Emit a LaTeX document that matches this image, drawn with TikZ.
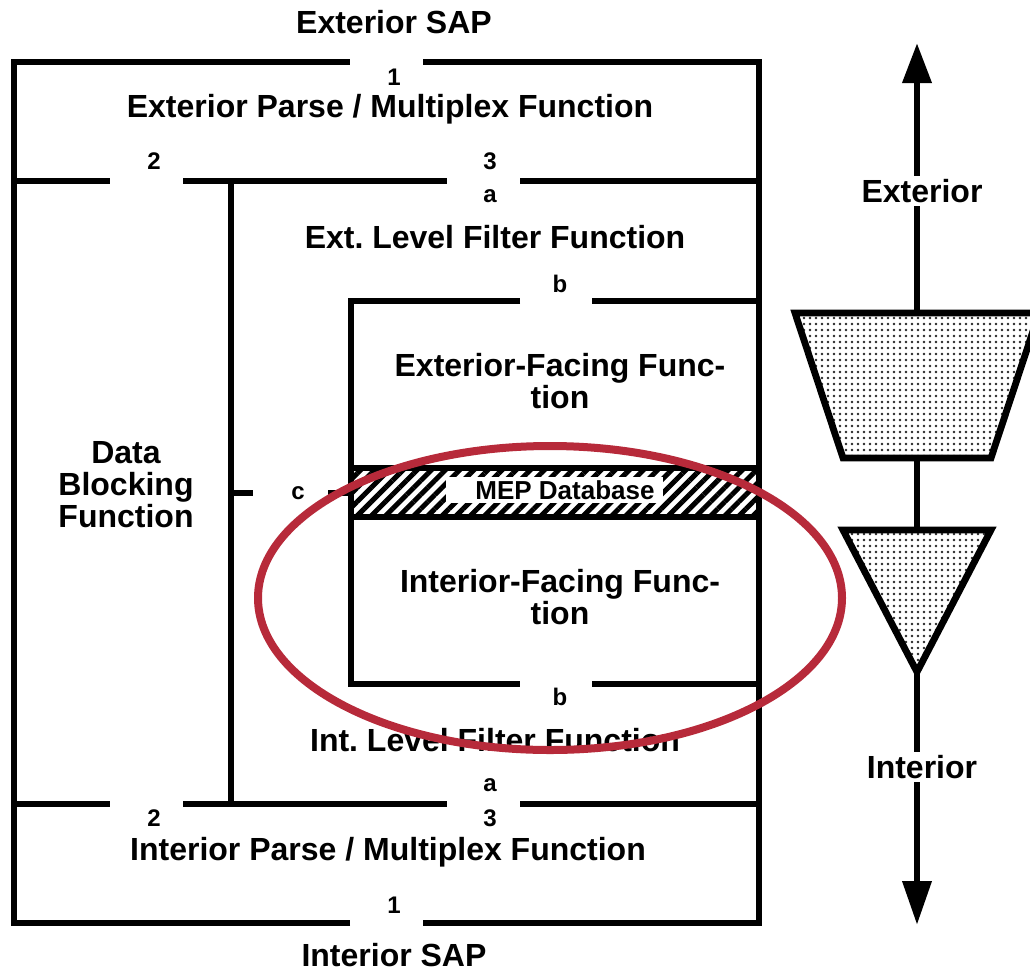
\documentclass[tikz,border=0pt]{standalone}
\usepackage{fontspec}
\setmainfont{Liberation Sans}
\usetikzlibrary{arrows.meta,patterns.meta}

\definecolor{markred}{RGB}{183,42,58}
\frenchspacing

\tikzset{
  wall/.style={line width=6.8pt},
  block/.style={font=\bfseries\fontsize{32}{32}\selectfont, align=center},
  title/.style={block, text height=23pt, text depth=0pt},
  port/.style={font=\bfseries\fontsize{24}{24}\selectfont,
               text height=17pt, text depth=0pt},
  stipple/.style={pattern={Dots[radius=1.4pt,distance=6pt]}, pattern color=black!85},
  hatch/.style={pattern={Lines[angle=45,distance=10pt,line width=5pt]}},
}

\begin{document}
\begin{tikzpicture}[x=1pt,y=-1pt]
   \useasboundingbox (0,0) rectangle (1030,972);

   % frame corners
   \coordinate (tl) at (14,62);
   \coordinate (tr) at (759,62);
   \coordinate (bl) at (14,923);
   \coordinate (br) at (759,923);

   % labels
   \node[title, inner ysep=2pt] (extsap) at (394,22) {Exterior SAP};
   \node[port] (p1top) at (394,77) {1};
   \node[title] (extmux) at (390,106) {Exterior Parse / Multiplex Function};
   \node[port] (p2top) at (154,161) {2};
   \node[port] (p3top) at (490,161) {3};
   \node[port] (patop) at (490,194) {a};
   \node[title] (extlvl) at (495,237) {Ext. Level Filter Function};
   \node[port] (pbtop) at (560,284) {b};
   \node[block] (extface) at (560,381) {Exterior-Facing Func-\\tion};
   \node[block] (datablk) at (126,485) {Data\\Blocking\\Function};
   \node[port] (pc) at (298,491) {c};
   \node[block] (intface) at (560,597) {Interior-Facing Func-\\tion};
   \node[port] (pbbot) at (560,697) {b};
   \node[title] (intlvl) at (495,740) {Int. Level Filter Function};
   \node[port] (pabot) at (490,783) {a};
   \node[port] (p2bot) at (154,818) {2};
   \node[port] (p3bot) at (490,818) {3};
   \node[title] (intmux) at (388,849) {Interior Parse / Multiplex Function};
   \node[port] (p1bot) at (394,905) {1};
   \node[title, inner ysep=2pt] (intsap) at (394,955) {Interior SAP};

   % outer frame, gap for port 1
   \draw[wall] (423,62) -- (tr) -- (br) -- (423,923);
   \draw[wall] (350,923) -- (bl) -- (tl) -- (350,62);

   % parse / multiplex separators
   \draw[wall] (14,181) -- (110,181);
   \draw[wall] (183,181) -- (447,181);
   \draw[wall] (520,181) -- (759,181);
   \draw[wall] (14,804) -- (110,804);
   \draw[wall] (183,804) -- (447,804);
   \draw[wall] (520,804) -- (759,804);

   % data blocking wall and c
   \draw[wall] (231,181) -- (231,804);
   \draw[wall] (231,493) -- (253,493);
   \draw[wall] (328,493) -- (351,493);

   % inner box
   \draw[wall] (520,301) -- (351,301) -- (351,684) -- (520,684);
   \draw[wall] (592,301) -- (759,301);
   \draw[wall] (592,684) -- (759,684);

   % MEP database band
   \path[hatch] (351,470) rectangle (759,516);
   \draw[wall] (351,468) -- (759,468);
   \draw[wall] (351,517) -- (759,517);
   \fill[white] (446,477) rectangle (663,503);
   \node[font=\bfseries\fontsize{26}{26}\selectfont, text height=19pt, text depth=0pt]
      (mep) at (565,490) {MEP Database};

   % exterior / interior axis
   \node[title] (ext) at (922,191) {Exterior};
   \node[title] (int) at (922,767) {Interior};
   \coordinate (uptip) at (917,43);
   \coordinate (downtip) at (917,925);
   \coordinate (trapTop) at (917,313);
   \coordinate (trapBot) at (917,458);
   \coordinate (triTop) at (917,530);
   \coordinate (triTip) at (917,672);

   \filldraw[wall, stipple, line join=miter] (795,313) -- (1039,313) -- (991,458) -- (843,458) -- cycle;
   \filldraw[wall, stipple, line join=miter] (843,530) -- (991,530) -- (triTip) -- cycle;

   \draw[wall, -{Triangle[length=40pt,width=28pt]}] ([xshift=-5pt]ext.north) -- (uptip);
   \draw[wall] ([xshift=-5pt]ext.south) -- (trapTop);
   \draw[wall] (trapBot) -- (triTop);
   \draw[wall] (triTip) -- ([xshift=-5pt]int.north);
   \draw[wall, -{Triangle[length=44pt,width=28pt]}] ([xshift=-5pt]int.south) -- (downtip);

   % highlight
   \draw[markred, line width=8pt] (550,598) ellipse [x radius=292pt, y radius=152pt];
\end{tikzpicture}
\end{document}
